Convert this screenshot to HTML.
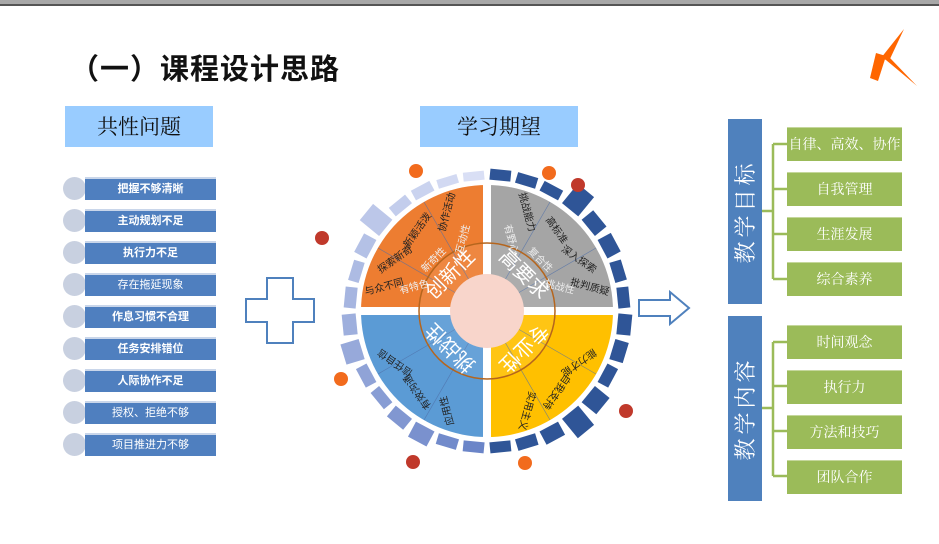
<!DOCTYPE html>
<html><head><meta charset="utf-8"><style>
body{margin:0;width:939px;height:544px;background:#fff;position:relative;overflow:hidden;font-family:"Liberation Sans","Noto Sans CJK SC",sans-serif}
.a{position:absolute}
.topbar{left:0;top:0;width:939px;height:4px;background:#a8a8a8;border-bottom:2px solid #555}
.title{left:70px;top:46px;font-size:29px;font-weight:bold;color:#111;letter-spacing:1px}
.hbox{background:#99ccff;font-size:21px;color:#111;text-align:center;line-height:41px;font-family:"Noto Serif CJK SC",serif}
.circ{width:23px;height:23px;border-radius:50%;background:#c8d0e0}
.bar{left:85px;width:131px;height:21px;background:#4f7fbf;border-top:2px solid #c9d6ea;color:#fff;font-size:11px;font-weight:bold;text-align:center;line-height:21px}
.vb{background:#4f81bd}
.vt{color:#fff;font-size:22px;font-family:"Noto Serif CJK SC",serif;letter-spacing:4px;width:185px;height:34px;line-height:34px;text-align:center;transform:rotate(-90deg);transform-origin:0 0}
.gb{left:787px;width:115px;height:33px;background:#9bbb59;color:#fff;font-size:14px;text-align:center;line-height:33px;font-family:"Noto Serif CJK SC",serif;border-top:1px solid #c5d79c}
</style></head><body>
<div class="a topbar"></div>
<div class="a title">（一）课程设计思路</div>
<svg class="a" style="left:862px;top:28px" width="60" height="60" viewBox="0 0 60 60"><polygon points="42,1 19,30 27,33" fill="#ff6600"/><polygon points="18,27 28,30 55,58" fill="#ff6600"/><polygon points="14,25 24,28 16,53 8,50" fill="#ff6600"/></svg>

<div class="a hbox" style="left:65px;top:106px;width:148px;height:41px">共性问题</div>
<div class="a hbox" style="left:420px;top:106px;width:158px;height:41px">学习期望</div>

<div class="a circ" style="left:63px;top:177px"></div><div class="a bar" style="top:177px">把握不够清晰</div>
<div class="a circ" style="left:63px;top:209px"></div><div class="a bar" style="top:209px">主动规划不足</div>
<div class="a circ" style="left:63px;top:241px"></div><div class="a bar" style="top:241px">执行力不足</div>
<div class="a circ" style="left:63px;top:273px"></div><div class="a bar" style="top:273px;font-weight:normal">存在拖延现象</div>
<div class="a circ" style="left:63px;top:305px"></div><div class="a bar" style="top:305px">作息习惯不合理</div>
<div class="a circ" style="left:63px;top:337px"></div><div class="a bar" style="top:337px">任务安排错位</div>
<div class="a circ" style="left:63px;top:369px"></div><div class="a bar" style="top:369px">人际协作不足</div>
<div class="a circ" style="left:63px;top:401px"></div><div class="a bar" style="top:401px;font-weight:normal">授权、拒绝不够</div>
<div class="a circ" style="left:63px;top:433px"></div><div class="a bar" style="top:433px;font-weight:normal">项目推进力不够</div>

<svg class="a" style="left:0;top:0" width="939" height="544">
<polygon points="267,278 293,278 293,299 314,299 314,322 293,322 293,343 267,343 267,322 246,322 246,299 267,299" fill="#fff" stroke="#4f81bd" stroke-width="2"/>
<polygon points="639,300 670,300 670,292 689,308 670,324 670,316 639,316" fill="#fff" stroke="#4f81bd" stroke-width="2"/>
<g id="segs">
</g>
<defs><clipPath id="cc"><circle cx="487" cy="311" r="126"/></clipPath></defs>
<g clip-path="url(#cc)">
<rect x="361" y="185" width="126" height="126" fill="#ed7d31"/>
<rect x="487" y="185" width="126" height="126" fill="#a5a5a5"/>
<rect x="361" y="311" width="126" height="126" fill="#5b9bd5"/>
<rect x="487" y="311" width="126" height="126" fill="#ffc000"/>
</g>
<rect x="483" y="180" width="8" height="262" fill="#fff"/>
<rect x="356" y="307" width="262" height="8" fill="#fff"/>
<g stroke="#4f6fa8" stroke-width="0.7" opacity="0.7">
<line x1="487" y1="311" x2="424" y2="202"/><line x1="487" y1="311" x2="378" y2="248"/>
<line x1="487" y1="311" x2="550" y2="202"/><line x1="487" y1="311" x2="596" y2="248"/>
<line x1="487" y1="311" x2="378" y2="374"/><line x1="487" y1="311" x2="424" y2="420"/>
<line x1="487" y1="311" x2="596" y2="374"/><line x1="487" y1="311" x2="550" y2="420"/>
</g>
<circle cx="487" cy="311" r="68" fill="#fff" fill-opacity="0.08" stroke="#b5651d" stroke-width="1.5"/>
<circle cx="487" cy="311" r="37" fill="#f8d5cb"/>
<g font-size="20" fill="#fff" text-anchor="middle" font-family="Liberation Sans, Noto Sans CJK SC, sans-serif">
<text transform="translate(450,274) rotate(-45)" dy="7">创新性</text>
<text transform="translate(524,274) rotate(45)" dy="7">高要求</text>
<text transform="translate(450,348) rotate(-135)" dy="7">挑战性</text>
<text transform="translate(524,348) rotate(135)" dy="7">专业性</text>
</g>
<g font-size="10" fill="#eee" text-anchor="middle">
<text transform="translate(466,240) rotate(-75)">互动性</text>
<text transform="translate(436,262) rotate(-45)">新奇性</text>
<text transform="translate(415,290) rotate(-15)">有特色</text>
<text transform="translate(508,240) rotate(75)">有野心</text>
<text transform="translate(538,262) rotate(45)">复合性</text>
<text transform="translate(559,290) rotate(15)">挑战性</text>
</g>
<g font-size="10" fill="#222" text-anchor="middle">
<text transform="translate(450,213) rotate(-75)">协作活动</text>
<text transform="translate(420,232) rotate(-55)">新颖活泼</text>
<text transform="translate(397,262) rotate(-35)">探索新奇</text>
<text transform="translate(385,290) rotate(-15)">与众不同</text>
<text transform="translate(524,213) rotate(75)">挑战能力</text>
<text transform="translate(554,232) rotate(55)">高标准</text>
<text transform="translate(577,262) rotate(35)">深入探索</text>
<text transform="translate(589,290) rotate(15)">批判质疑</text>
<text transform="translate(397,360) rotate(-145)">信任自信</text>
<text transform="translate(420,390) rotate(-125)">有效沟通</text>
<text transform="translate(450,410) rotate(-105)">应用性</text>
<text transform="translate(577,360) rotate(145)">能力才能</text>
<text transform="translate(554,390) rotate(125)">自我支持</text>
<text transform="translate(524,410) rotate(105)">实用主义</text>
</g>
<g fill="#f26b1d"><circle cx="416" cy="171" r="7"/><circle cx="549" cy="173" r="7"/><circle cx="341" cy="379" r="7"/><circle cx="525" cy="463" r="7"/></g>
<g fill="#c0392b"><circle cx="322" cy="238" r="7"/><circle cx="578" cy="185" r="7"/><circle cx="626" cy="411" r="7"/><circle cx="413" cy="462" r="7"/></g>
<g stroke="#9bbb59" stroke-width="2.5" fill="none">
<path d="M762,211 H773 M773,144 V279 M773,144 H787 M773,189 H787 M773,234 H787 M773,279 H787"/>
<path d="M762,408 H773 M773,342 V476 M773,342 H787 M773,386 H787 M773,431 H787 M773,476 H787"/>
</g>
</svg>
<div class="a vb" style="left:728px;top:119px;width:34px;height:185px"><div class="a vt" style="left:0;top:185px">教学目标</div></div>
<div class="a vb" style="left:728px;top:316px;width:34px;height:185px"><div class="a vt" style="left:0;top:185px">教学内容</div></div>
<div class="a gb" style="top:127px">自律、高效、协作</div>
<div class="a gb" style="top:172px">自我管理</div>
<div class="a gb" style="top:217px">生涯发展</div>
<div class="a gb" style="top:262px">综合素养</div>
<div class="a gb" style="top:325px">时间观念</div>
<div class="a gb" style="top:370px">执行力</div>
<div class="a gb" style="top:415px">方法和技巧</div>
<div class="a gb" style="top:460px">团队合作</div>
<script>
var g=document.getElementById('segs'),s='';
var outs=[142,142,142,156,146,146,143,143,145,145,143,150,156,146,143,142,142,142,148,145,142,143,150,145,143,142,145,156,142,142,140,140];
for(var k=0;k<32;k++){var a=5.625+k*11.25,o=outs[k],c;
if(k<16)c='#2f5597';else{var t=(k-16)/15;var r=Math.round(107+t*110),gg=Math.round(133+t*90),b=Math.round(200+t*45);c='rgb('+r+','+gg+','+b+')';}
s+='<rect x="476.5" y="'+(311-o)+'" width="21" height="'+(o-131)+'" fill="'+c+'" transform="rotate('+a+' 487 311)"/>';}
g.innerHTML=s;
</script>
</body></html>
